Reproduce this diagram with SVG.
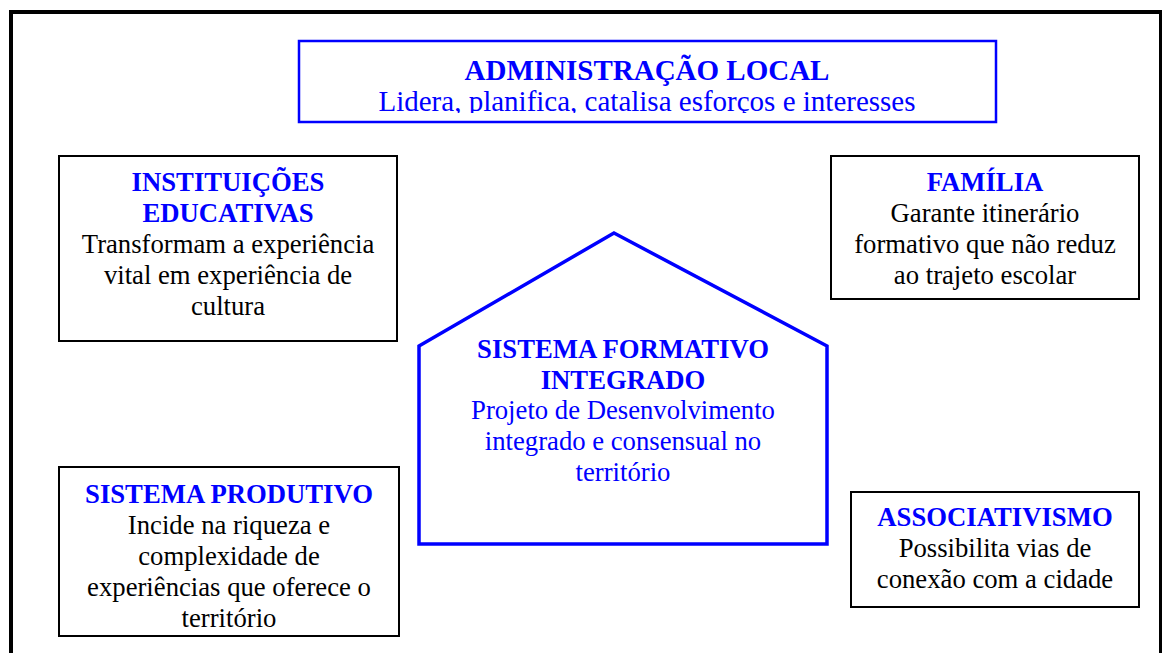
<svg xmlns="http://www.w3.org/2000/svg" width="1162" height="653" viewBox="0 0 1162 653">
<style>
text{font-family:"Liberation Serif","Times New Roman",serif;text-anchor:middle}
.t{font-weight:bold;fill:#0000FF;font-size:26.7px}
.b{fill:#000;font-size:26.7px}
.bl{fill:#0000FF;font-size:26.7px}
.box{fill:#fff;stroke:#000;stroke-width:2}
</style>
<defs>
<clipPath id="topclip"><rect x="300" y="42" width="695" height="71"/></clipPath>
</defs>
<rect x="0" y="0" width="1162" height="653" fill="#fff"/>
<rect x="11" y="12" width="1150" height="660" fill="none" stroke="#000" stroke-width="4"/>
<g id="connectors"></g>
<g id="admin">
<rect x="299" y="41" width="697" height="81" fill="#fff" stroke="#0000FF" stroke-width="2.5"/>
<g clip-path="url(#topclip)">
<text x="647" y="80" style="font-weight:bold;fill:#0000FF;font-size:29px">ADMINISTRAÇÃO LOCAL</text>
<text x="647" y="111" style="fill:#0000FF;font-size:29px">Lidera, planifica, catalisa esforços e interesses</text>
</g>
</g>
<g id="instituicoes">
<rect class="box" x="59" y="156" width="338" height="185"/>
<text class="t" x="228" y="191">INSTITUIÇÕES</text>
<text class="t" x="228" y="222">EDUCATIVAS</text>
<text class="b" x="228" y="253">Transformam a experiência</text>
<text class="b" x="228" y="284">vital em experiência de</text>
<text class="b" x="228" y="315">cultura</text>
</g>
<g id="familia">
<rect class="box" x="831" y="156" width="308" height="143"/>
<text class="t" x="985" y="191">FAMÍLIA</text>
<text class="b" x="985" y="222">Garante itinerário</text>
<text class="b" x="985" y="253">formativo que não reduz</text>
<text class="b" x="985" y="284">ao trajeto escolar</text>
</g>
<g id="sistema-formativo">
<path d="M614,233 L827,346 L827,544 L419,544 L419,346 Z" fill="#fff" stroke="#0000FF" stroke-width="3.5" stroke-linejoin="miter"/>
<text class="t" x="623" y="358">SISTEMA FORMATIVO</text>
<text class="t" x="623" y="389">INTEGRADO</text>
<text class="bl" x="623" y="419">Projeto de Desenvolvimento</text>
<text class="bl" x="623" y="450">integrado e consensual no</text>
<text class="bl" x="623" y="481">território</text>
</g>
<g id="sistema-produtivo">
<rect class="box" x="59" y="467" width="340" height="169"/>
<text class="t" x="229" y="503">SISTEMA PRODUTIVO</text>
<text class="b" x="229" y="534">Incide na riqueza e</text>
<text class="b" x="229" y="565">complexidade de</text>
<text class="b" x="229" y="596">experiências que oferece o</text>
<text class="b" x="229" y="627">território</text>
</g>
<g id="associativismo">
<rect class="box" x="851" y="492" width="288" height="115"/>
<text class="t" x="995" y="526">ASSOCIATIVISMO</text>
<text class="b" x="995" y="557">Possibilita vias de</text>
<text class="b" x="995" y="588">conexão com a cidade</text>
</g>
</svg>
